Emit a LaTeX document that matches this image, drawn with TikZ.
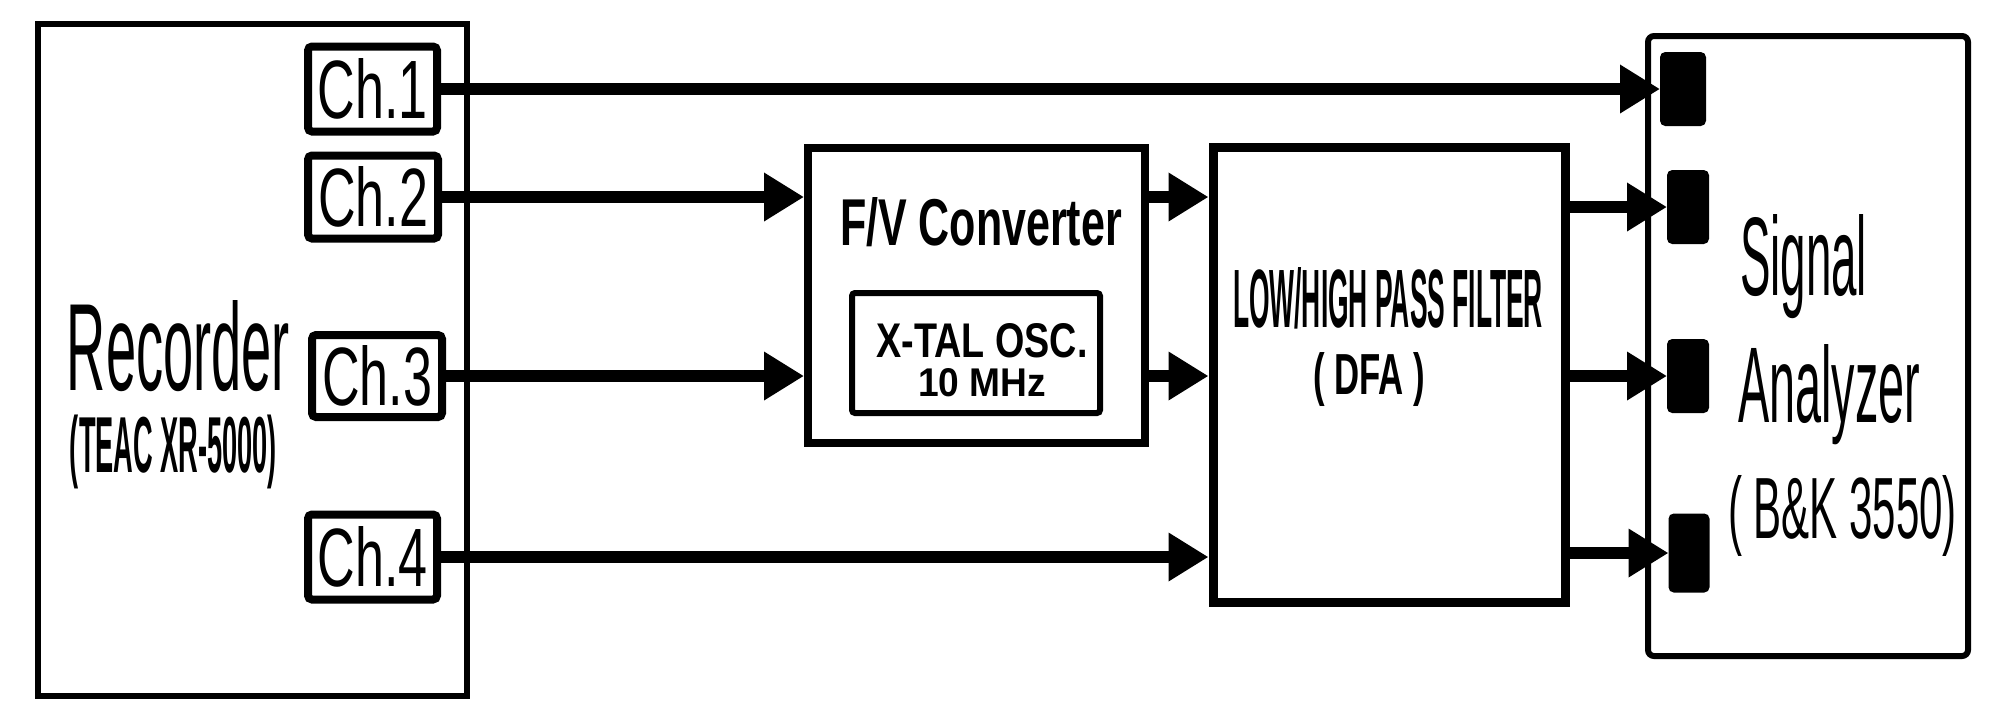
\documentclass[tikz,border=0pt]{standalone}
\usepackage{fontspec}
\setmainfont{Liberation Sans}
\usepackage{graphicx}
\usetikzlibrary{arrows.meta}
\newlength\pxu
\setlength\pxu{0.1mm}
\newcommand{\fitbox}[3]{\resizebox{#1\pxu}{#2\pxu}{#3}}
\newcommand{\fitboxt}[3]{\resizebox*{#1\pxu}{#2\pxu}{#3}}
\begin{document}
\begin{tikzpicture}[x=0.1mm, y=-0.1mm,
  blk/.style={draw, line width=0.7mm, inner sep=0pt, rectangle},
  chbox/.style={draw, line width=0.8mm, inner sep=0pt, rounded corners=0.4mm},
  port/.style={draw, fill=black, line width=0.3mm, inner sep=0pt, rounded corners=0.4mm},
  lbl/.style={inner sep=0pt, outer sep=0pt},
  conn/.style={line width=1.2mm, -{Triangle[length=4mm,width=4.6mm]}}
]
\useasboundingbox (0,0) rectangle (1992,700);

% main blocks
\node[blk, line width=0.6mm, minimum width=429\pxu, minimum height=672\pxu] (rec) at (252.5,360) {};
\node[blk, line width=0.8mm, minimum width=337\pxu, minimum height=295\pxu] (fv) at (976.5,295.5) {};
\node[blk, line width=0.6mm, rounded corners=0.3mm, minimum width=248\pxu, minimum height=120\pxu] (xtal) at (976,353) {};
\node[blk, line width=0.9mm, minimum width=352\pxu, minimum height=455\pxu] (flt) at (1389,374.5) {};
\node[blk, line width=0.6mm, rounded corners=0.6mm, minimum width=320\pxu, minimum height=620\pxu] (sa) at (1808,346) {};

% channel boxes
\node[chbox, minimum width=129\pxu, minimum height=85\pxu] (ch1) at (372.5,89) {\fitbox{110}{60}{Ch.1}};
\node[chbox, minimum width=130\pxu, minimum height=83\pxu] (ch2) at (373,197) {\fitbox{110}{60}{Ch.2}};
\node[chbox, minimum width=130\pxu, minimum height=82\pxu] (ch3) at (377,376) {\fitbox{110}{60}{Ch.3}};
\node[chbox, minimum width=129\pxu, minimum height=85\pxu] (ch4) at (372.5,557) {\fitbox{110}{60}{Ch.4}};

% analyzer ports
\node[port, minimum width=43\pxu, minimum height=71\pxu] (p1) at (1683,89) {};
\node[port, minimum width=39\pxu, minimum height=71\pxu] (p2) at (1688,207) {};
\node[port, minimum width=39\pxu, minimum height=71\pxu] (p3) at (1688,376) {};
\node[port, minimum width=38\pxu, minimum height=76\pxu] (p4) at (1689,553) {};

% labels
\node[lbl, anchor=base] (recT) at (178.5,390) {\fitbox{223}{90}{Recorder}};
\node[lbl] (recM) at (173.5,452) {\fitboxt{207}{74}{\bfseries (TEAC XR-5000)}};
\node[lbl, anchor=base] (fvT) at (981,245) {\fitbox{282}{48}{\bfseries F/V Converter}};
\node[lbl, anchor=base] (xT) at (982,357) {\fitbox{211}{34}{\bfseries X-TAL OSC.}};
\node[lbl, anchor=base] (xF) at (982,396) {\fitbox{128}{28}{\bfseries 10 MHz}};
\node[lbl, anchor=base] (fT) at (1388,327) {\fitbox{310}{60}{\bfseries LOW/HIGH PASS FILTER}};
\node[lbl] (fM) at (1369,380) {\fitboxt{112}{54}{\bfseries ( DFA )}};
\node[lbl, anchor=base] (sT1) at (1803.5,295) {\fitbox{127}{81}{Signal}};
\node[lbl, anchor=base] (sT2) at (1829,422) {\fitbox{182}{78}{Analyzer}};
\node[lbl] (sM) at (1842.5,515.5) {\fitboxt{229}{81}{( B\&K 3550)}};

% connectors
\draw[conn] (ch1.east) -- (p1.west);
\draw[conn] (ch2.east) -- (ch2.east -| fv.west);
\draw[conn] (ch3.east) -- (ch3.east -| fv.west);
\draw[conn] (ch4.east) -- (ch4.east -| flt.west);
\draw[conn] (fv.east |- ch2.east) -- (flt.west |- ch2.east);
\draw[conn] (fv.east |- ch3.east) -- (flt.west |- ch3.east);
\draw[conn] (flt.east |- p2.west) -- (p2.west);
\draw[conn] (flt.east |- p3.west) -- (p3.west);
\draw[conn] (flt.east |- p4.west) -- (p4.west);
\end{tikzpicture}
\end{document}
